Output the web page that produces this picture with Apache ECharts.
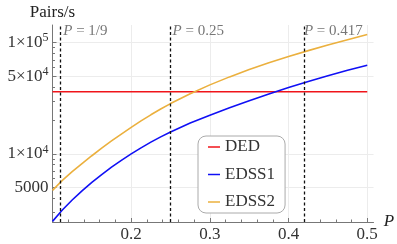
<!DOCTYPE html>
<html><head><meta charset="utf-8">
<script src="https://cdn.jsdelivr.net/npm/echarts@6/dist/echarts.min.js"></script>
<style>html,body{margin:0;padding:0;background:#fff}#c{width:397px;height:244px}</style>
</head><body><div id="c"></div>
<script>
const P = [0.1, 0.1125, 0.125, 0.1375, 0.15, 0.1625, 0.175, 0.1875, 0.2, 0.2125, 0.225, 0.2375, 0.25,
           0.275, 0.3, 0.325, 0.35, 0.375, 0.4, 0.425, 0.45, 0.475, 0.5];
const EDSS1 = [2472, 3130, 3850, 4645, 5534, 6516, 7586, 8750, 10000, 11320, 12740, 14220, 15740,
               18920, 22280, 25940, 30060, 34590, 39540, 44770, 50350, 56360, 62660];
const EDSS2 = [4699, 5768, 6918, 8185, 9616, 11250, 13060, 15070, 17300, 19770, 22440, 25290, 28310,
               34750, 41690, 49200, 57280, 65920, 74990, 84720, 95060, 106200, 118300];
const DED_P = [0.1, 0.5];
const DED = [36200, 36200];
const markers = [1/9, 0.25, 0.417];
const markerLabels = ['1/9', '0.25', '0.417'];
const xMajor = [0.2, 0.3, 0.4, 0.5];
const xMinor = [0.12,0.14,0.16,0.18,0.22,0.24,0.26,0.28,0.32,0.34,0.36,0.38,0.42,0.44,0.46,0.48];
const yMajor = [5000, 10000, 50000, 100000];
const yMinor = [3000,4000,6000,7000,8000,9000,20000,30000,40000,60000,70000,80000,90000];
const yLabels = {5000:'5000', 10000:'1×10{s|4}', 50000:'5×10{s|4}', 100000:'1×10{s|5}'};

const serif = 'Liberation Serif';
const chart = echarts.init(document.getElementById('c'));
const pairs = (xs, ys) => xs.map((x, i) => [x, ys[i]]);
const axisCol = '#777';
const yMin = 2440, yMax = 144000, xMin = 0.1, xMax = 0.508;

chart.setOption({
  animation: false,
  grid: {left: 52.5, right: 16, top: 25, bottom: 22},
  xAxis: [{
    type: 'value', min: xMin, max: xMax,
    axisLine: {lineStyle: {color: axisCol, width: 1}},
    axisTick: {inside: true, length: 4, customValues: xMajor, lineStyle: {color: axisCol}},
    axisLabel: {customValues: xMajor, fontFamily: serif, fontSize: 17, color: '#333', margin: 4,
      formatter: v => String(Math.round(v*10)/10)},
    splitLine: {show: true, lineStyle: {color: '#ececec', width: 1}},
    name: 'P', nameLocation: 'end', nameGap: 3,
    nameTextStyle: {fontFamily: serif, fontStyle: 'italic', fontSize: 17, color: '#222', padding: [0,0,8,0]}
  }, {
    type: 'value', min: xMin, max: xMax, position: 'bottom',
    axisLine: {show: false},
    axisTick: {inside: true, length: 2.5, customValues: xMinor, lineStyle: {color: axisCol}},
    axisLabel: {show: false}, splitLine: {show: false}
  }],
  yAxis: [{
    type: 'log', min: yMin, max: yMax,
    axisLine: {show: true, lineStyle: {color: axisCol, width: 1}},
    axisTick: {show: true, inside: true, length: 4, customValues: yMajor, lineStyle: {color: axisCol}},
    axisLabel: {customValues: yMajor, fontFamily: serif, fontSize: 17, color: '#333', margin: 4,
      formatter: v => yLabels[Math.round(v)] || '',
      rich: {s: {fontFamily: serif, fontSize: 12, color: '#333', padding: [0,0,9,0]}}},
    splitLine: {show: true, lineStyle: {color: '#ececec', width: 1}},
    name: 'Pairs/s', nameLocation: 'end', nameGap: 4,
    nameTextStyle: {fontFamily: serif, fontSize: 17, color: '#222'}
  }, {
    type: 'log', min: yMin, max: yMax, position: 'left',
    axisLine: {show: false},
    axisTick: {show: true, inside: true, length: 2.5, customValues: yMinor, lineStyle: {color: axisCol}},
    axisLabel: {show: false}, splitLine: {show: false}
  }],
  legend: {
    orient: 'vertical', left: 198, top: 136,
    data: ['DED', 'EDSS1', 'EDSS2'],
    icon: 'rect', itemWidth: 12, itemHeight: 1.5, itemGap: 7.5,
    backgroundColor: '#fff', borderColor: '#aaa', borderWidth: 1, borderRadius: 8,
    padding: [1, 10, 1, 10],
    textStyle: {fontFamily: serif, fontSize: 17, color: '#333', lineHeight: 20}
  },
  series: [
    {name: 'DED', type: 'line', data: pairs(DED_P, DED), showSymbol: false,
     lineStyle: {color: '#f0141a', width: 1.6}, itemStyle: {color: '#f0141a'}, z: 3,
     markLine: {symbol: 'none', silent: true, animation: false,
       lineStyle: {color: '#111', type: [3, 2.5], width: 1.3},
       label: {show: false},
       data: markers.map(m => ({xAxis: m}))},
     markPoint: {symbol: 'circle', symbolSize: 0, silent: true,
       label: {show: true, position: 'right', distance: 2, fontFamily: serif, fontSize: 15, color: '#777',
         rich: {i: {fontFamily: serif, fontStyle: 'italic', fontSize: 15, color: '#777'}}},
       data: markers.map((m, i) => ({coord: [m, 127000], value: 0,
         label: {formatter: '{i|P} = ' + markerLabels[i]}}))}
    },
    {name: 'EDSS1', type: 'line', data: pairs(P, EDSS1), showSymbol: false,
     lineStyle: {color: '#1010f5', width: 1.6}, itemStyle: {color: '#1010f5'}, z: 3},
    {name: 'EDSS2', type: 'line', data: pairs(P, EDSS2), showSymbol: false,
     lineStyle: {color: '#ebb03e', width: 1.6}, itemStyle: {color: '#ebb03e'}, z: 3}
  ]
});
</script></body></html>
